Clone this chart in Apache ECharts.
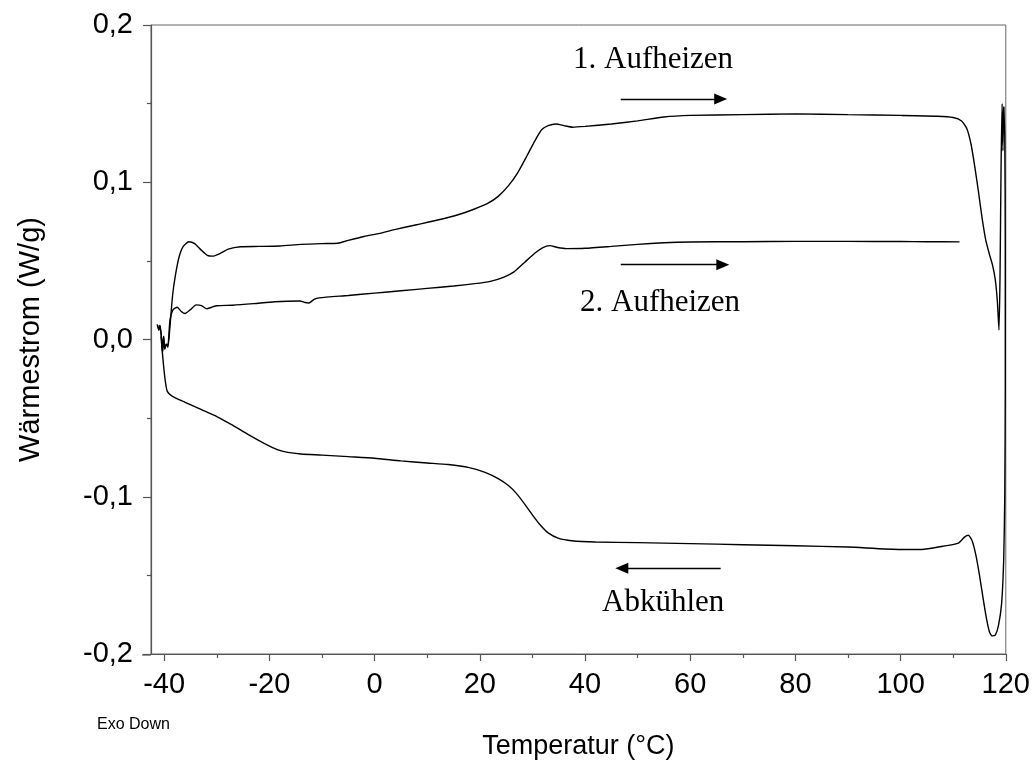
<!DOCTYPE html>
<html>
<head>
<meta charset="utf-8">
<script src="https://cdn.jsdelivr.net/npm/echarts@6/dist/echarts.min.js"></script>
<style>
html,body{margin:0;padding:0;background:#fff;}
#chart{width:1033px;height:765px;}
</style>
</head>
<body>
<div id="chart"></div>
<script>
// ---- data (Temperatur °C, Wärmestrom W/g) ----
const heating1 = [
 [-41.3,0.0095],[-41.0,0.006],[-40.8,0.009],[-40.5,0.001],[-40.3,-0.008],[-40.1,0.002],[-39.9,-0.006],[-39.6,-0.003],[-39.3,-0.005],
 [-38.9,0.008],[-38.4,0.028],[-37.9,0.040],[-37.2,0.052],[-36.4,0.059],[-35.3,0.0622],[-34.2,0.061],[-33,0.057],[-31.8,0.0535],
 [-30.8,0.053],[-29.5,0.0545],[-27.8,0.0575],[-25.5,0.059],[-22,0.0592],[-18,0.0595],[-14,0.0605],[-10,0.061],[-7,0.0612],
 [-5,0.063],[-2,0.0655],[1,0.0675],[4,0.070],[8,0.073],[12,0.076],[16,0.0795],[19,0.083],[21.5,0.0865],[23.5,0.091],[25.5,0.098],
 [27.2,0.106],[29,0.117],[30.5,0.1265],[31.8,0.1335],[33,0.136],[34.5,0.137],[36,0.136],[37.6,0.135],[40,0.1355],[45,0.137],
 [50,0.139],[55,0.1415],[60,0.1425],[70,0.143],[80,0.1435],[90,0.143],[100,0.1425],[107,0.142],[110,0.1412],[111.6,0.139],
 [112.6,0.134],[113.4,0.124],[114.1,0.110],[114.8,0.094],[115.5,0.077],[116.2,0.063],[116.9,0.054],[117.5,0.047],[118.0,0.038],
 [118.4,0.024],[118.7,0.006],[118.9,0.04],[119.1,0.11],[119.3,0.150],[119.45,0.12],[119.6,0.148]
];
const heating2 = [
 [-41.3,0.0095],[-41.0,0.006],[-40.8,0.009],[-40.5,0.001],[-40.3,-0.008],[-40.1,0.002],[-39.9,-0.006],[-39.6,-0.003],[-39.3,-0.004],
 [-38.9,0.012],[-38.3,0.019],[-37.5,0.0205],[-36.8,0.018],[-36,0.0165],[-35,0.019],[-33.9,0.022],[-32.9,0.0215],[-31.9,0.0195],
 [-31,0.0205],[-30,0.0215],[-27,0.0218],[-23,0.0228],[-19,0.024],[-14.2,0.0245],[-13.2,0.0235],[-12.5,0.0232],[-11.5,0.0255],
 [-10.5,0.0265],[-5,0.028],[0,0.0295],[5,0.031],[10,0.0325],[15,0.034],[19,0.0355],[22,0.037],[24.5,0.0395],[26.5,0.043],
 [28.5,0.049],[30.5,0.055],[32,0.0585],[33.3,0.0597],[34.8,0.0585],[36.5,0.0578],[40,0.058],[45,0.0592],[50,0.0605],[55,0.0615],
 [60,0.062],[70,0.0622],[80,0.0624],[90,0.0624],[100,0.0623],[105,0.0622],[111.2,0.0621]
];
const cooling = [
 [119.6,0.148],[119.8,0.13],[119.9,0.06],[119.9,-0.03],[119.8,-0.10],[119.6,-0.14],[119.2,-0.168],[118.6,-0.182],[118.0,-0.188],
 [117.4,-0.1885],[116.9,-0.186],[116.3,-0.177],[115.7,-0.165],[115.0,-0.150],[114.3,-0.137],[113.6,-0.128],[112.9,-0.1245],
 [112.2,-0.1255],[111,-0.1295],[108,-0.1315],[104,-0.1335],[100,-0.1335],[90,-0.132],[80,-0.1312],[70,-0.1305],[60,-0.1298],
 [50,-0.1292],[42,-0.1288],[37.5,-0.128],[35,-0.1265],[33,-0.123],[31.5,-0.118],[30,-0.1115],[28.5,-0.1045],[27,-0.098],
 [25.5,-0.093],[23.5,-0.0885],[21,-0.0845],[18,-0.0815],[14,-0.0795],[10,-0.0785],[5,-0.0772],[0,-0.0755],[-5,-0.0745],
 [-10,-0.0735],[-14,-0.0728],[-16.5,-0.0718],[-18.5,-0.070],[-21,-0.066],[-24,-0.0605],[-27,-0.0545],[-30,-0.049],[-33,-0.0445],
 [-36,-0.040],[-38.5,-0.036],[-39.4,-0.033],[-39.8,-0.026],[-40.1,-0.017],[-40.4,-0.006],[-40.6,0.002]
];
const xMajorTicks = [-40,-20,0,20,40,60,80,100,120];
const xMinorTicks = [-30,-10,10,30,50,70,90,110];
// arrows: [startT, endT, W]
const arrow1 = [46.8, 65.8, 0.153];
const arrow2 = [46.8, 66.2, 0.0476];
const arrow3 = [65.8, 47.0, -0.1454];

const chart = echarts.init(document.getElementById('chart'), null, {renderer:'canvas'});
const sans = 'Liberation Sans, Arial, sans-serif';
const serif = 'Liberation Serif, Times New Roman, serif';
const axisCol = '#555';

function arrowML(a){
  return {
    silent:true, symbol:['none','triangle'], symbolSize:[11,13],
    label:{show:false},
    lineStyle:{color:'#000',width:1.4,type:'solid'},
    emphasis:{disabled:true},
    data:[[{coord:[a[0],a[2]]},{coord:[a[1],a[2]]}]]
  };
}
const lineBase = {type:'line', showSymbol:false, smooth:0.2, silent:true,
  lineStyle:{color:'#000', width:1.4}, itemStyle:{color:'#000'}, animation:false};

chart.setOption({
  animation:false,
  grid:{left:151, right:26, top:25, bottom:110, show:true, borderColor:'#666', borderWidth:1},
  xAxis:[{
    type:'value', min:-42.5, max:120, position:'bottom',
    name:'Temperatur (°C)', nameLocation:'middle', nameGap:79,
    nameTextStyle:{fontFamily:sans, fontSize:27, color:'#000'},
    axisLine:{show:true, onZero:false, lineStyle:{color:axisCol, width:1.2}},
    axisTick:{show:true, inside:false, length:7, customValues:xMajorTicks, lineStyle:{color:axisCol, width:1.2}},
    axisLabel:{show:true, customValues:xMajorTicks, margin:16, fontFamily:sans, fontSize:29, color:'#000'},
    splitLine:{show:false}
  },{
    type:'value', min:-42.5, max:120, position:'bottom', offset:0,
    axisLine:{show:false, onZero:false},
    axisTick:{show:true, inside:false, length:4, customValues:xMinorTicks, lineStyle:{color:axisCol, width:1.2}},
    axisLabel:{show:false, customValues:xMinorTicks},
    splitLine:{show:false}
  }],
  yAxis:{
    type:'value', min:-0.2, max:0.2, interval:0.1,
    name:'Wärmestrom (W/g)', nameLocation:'middle', nameGap:106,
    nameTextStyle:{fontFamily:sans, fontSize:29, color:'#000'},
    axisLine:{show:true, onZero:false, lineStyle:{color:axisCol, width:1.2}},
    axisTick:{show:true, inside:false, length:8, lineStyle:{color:axisCol, width:1.2}},
    minorTick:{show:true, splitNumber:2, length:4, lineStyle:{color:axisCol, width:1.2}},
    axisLabel:{margin:18, fontFamily:sans, fontSize:29, color:'#000',
      formatter:function(v){ const s=(Math.abs(v)<1e-9?0:v).toFixed(1); return s.replace('.',','); }},
    splitLine:{show:false}
  },
  series:[
    Object.assign({}, lineBase, {name:'1. Aufheizen', data:heating1, markLine:arrowML(arrow1)}),
    Object.assign({}, lineBase, {name:'2. Aufheizen', data:heating2, markLine:arrowML(arrow2)}),
    Object.assign({}, lineBase, {name:'Abkühlen', data:cooling, markLine:arrowML(arrow3)})
  ],
  graphic:[
    {type:'line', shape:{x1:142, y1:655, x2:151, y2:655}, style:{stroke:axisCol, lineWidth:1.2}},
    {type:'text', left:573, top:44, style:{text:'1. Aufheizen', font:'31px '+serif, fill:'#000'}},
    {type:'text', left:580, top:287, style:{text:'2. Aufheizen', font:'31px '+serif, fill:'#000'}},
    {type:'text', left:602, top:587, style:{text:'Abkühlen', font:'31px '+serif, fill:'#000'}},
    {type:'text', left:97, top:717, style:{text:'Exo Down', font:'16px '+sans, fill:'#000'}}
  ]
});
</script>
</body>
</html>
